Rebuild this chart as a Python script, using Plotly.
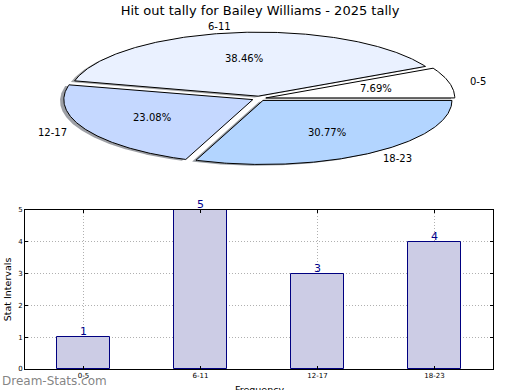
import numpy as np
import plotly.graph_objects as go

# ---- data ----
categories = ["0-5", "6-11", "12-17", "18-23"]
values = [1, 5, 3, 4]
title_text = "Hit out tally for Bailey Williams - 2025 tally"
y_title = "Stat Intervals"
x_title = "Frequency"
watermark = "Dream-Stats.com"

# ---- styles / layout constants ----
pie_colors = [(255, 255, 255), (234, 241, 255), (197, 216, 255), (179, 213, 255)]
FONT = "DejaVu Sans"
W, H = 520, 390
ML, MR, MT, MB = 25, 27, 0, 21
PW = W - ML - MR
PH = H - MT - MB
PIE_Y0 = 0.45
BAR_Y1 = (PH - 210) / PH

# pie geometry (pie axes are in pixel-like units)
CX, CY, RX, RY, EXPLODE = 259, 98.5, 189, 64, 0.037
SHADOW_DX, SHADOW_DY = -0.02 * RX, 0.02 * RY

fig = go.Figure()

total = float(sum(values))
wedges = []
start = 0.0
for cat, v, col in zip(categories, values, pie_colors):
    sweep = 360.0 * v / total
    t1, t2 = start, start + sweep
    mid = np.radians((t1 + t2) / 2)
    dx = EXPLODE * RX * np.cos(mid)
    dy = -EXPLODE * RY * np.sin(mid)
    ts = np.radians(np.linspace(t1, t2, max(int(sweep * 2), 3)))
    ox, oy = CX + dx, CY + dy
    xs = np.concatenate([[ox], ox + RX * np.cos(ts), [ox]])
    ys = np.concatenate([[oy], oy - RY * np.sin(ts), [oy]])
    wedges.append((cat, v, col, xs, ys, mid, ox, oy))
    start = t2

# shadows first
for cat, v, col, xs, ys, mid, ox, oy in wedges:
    sc = tuple(int(0.3 * c) for c in col)
    fig.add_trace(go.Scatter(
        x=xs + SHADOW_DX, y=ys + SHADOW_DY, mode="lines", fill="toself",
        fillcolor="rgba(%d,%d,%d,0.5)" % sc, line=dict(width=0),
        xaxis="x2", yaxis="y2", hoverinfo="skip", showlegend=False))

for cat, v, col, xs, ys, mid, ox, oy in wedges:
    fig.add_trace(go.Scatter(
        x=xs, y=ys, mode="lines", fill="toself",
        fillcolor="rgb(%d,%d,%d)" % col, line=dict(color="black", width=1),
        xaxis="x2", yaxis="y2", hoverinfo="skip", showlegend=False))
    # percentage label
    fig.add_annotation(
        x=ox + 0.6 * RX * np.cos(mid), y=oy - 0.6 * RY * np.sin(mid),
        xref="x2", yref="y2", text="%.2f%%" % (100 * v / total),
        showarrow=False, font=dict(family=FONT, size=10, color="black"),
        xanchor="center", yanchor="middle")
    # category label
    lx = ox + 1.1 * RX * np.cos(mid)
    fig.add_annotation(
        x=lx, y=oy - 1.1 * RY * np.sin(mid), xref="x2", yref="y2", text=cat,
        showarrow=False, font=dict(family=FONT, size=10, color="black"),
        xanchor="right" if np.cos(mid) < 0 else "left", yanchor="middle")

# bar chart
fig.add_trace(go.Bar(
    x=categories, y=values, width=0.45,
    marker=dict(color="rgb(204,204,229)", line=dict(color="#000080", width=1)),
    xaxis="x", yaxis="y", showlegend=False, hoverinfo="skip"))

# value labels sitting on top of the bars
for cat, v in zip(categories, values):
    fig.add_annotation(
        x=cat, y=v, xref="x", yref="y", text=str(v), showarrow=False,
        xanchor="center", yanchor="middle", yshift=5.5,
        font=dict(family=FONT, size=11, color="#00008b"))

axis_common = dict(
    showline=True, linecolor="black", linewidth=1, mirror="ticks",
    showgrid=True, gridcolor="#b0b0b0", gridwidth=1, griddash="1px,2px",
    ticks="inside", ticklen=3, tickcolor="black", zeroline=False,
    tickfont=dict(family=FONT, size=7, color="black"), automargin=False)

fig.update_layout(
    width=W, height=H, template="none",
    margin=dict(l=ML, r=MR, t=MT, b=MB, pad=0),
    paper_bgcolor="white", plot_bgcolor="white",
    font=dict(family=FONT, color="black"),
    title=dict(text=title_text, x=0.5, xref="container", xanchor="center",
               y=1 - 10 / H, yref="container", yanchor="middle",
               font=dict(family=FONT, size=13, color="black")),
    xaxis=dict(domain=[0, 1], anchor="y", type="category", range=[-0.5, 3.5],
               **axis_common),
    yaxis=dict(domain=[0, BAR_Y1], anchor="x", range=[0, 5], dtick=1,
               title=dict(text=y_title, standoff=4,
                          font=dict(family=FONT, size=9.5, color="black")),
               **axis_common),
    xaxis2=dict(domain=[0, 1], anchor="y2", range=[ML, W - MR], visible=False),
    yaxis2=dict(domain=[PIE_Y0, 1], anchor="x2",
                range=[PH * (1 - PIE_Y0), 0], visible=False),
    bargap=0,
)

# x-axis title (sits partly below the page edge, as in the original)
fig.add_annotation(
    x=0.5, y=(PH - 389) / PH, xref="paper", yref="paper", text=x_title,
    showarrow=False, xanchor="center", yanchor="middle",
    font=dict(family=FONT, size=9.5, color="black"))

fig.add_annotation(
    x=-ML / PW, y=(PH - 381) / PH, xref="paper", yref="paper",
    text=watermark, showarrow=False, xanchor="left", yanchor="middle",
    font=dict(family=FONT, size=12, color="rgba(100,100,100,0.8)"))

fig.write_html("out.html",
               config={"displayModeBar": False},
               post_script="document.body.style.margin='0';"
                           "document.body.style.overflow='hidden';")
